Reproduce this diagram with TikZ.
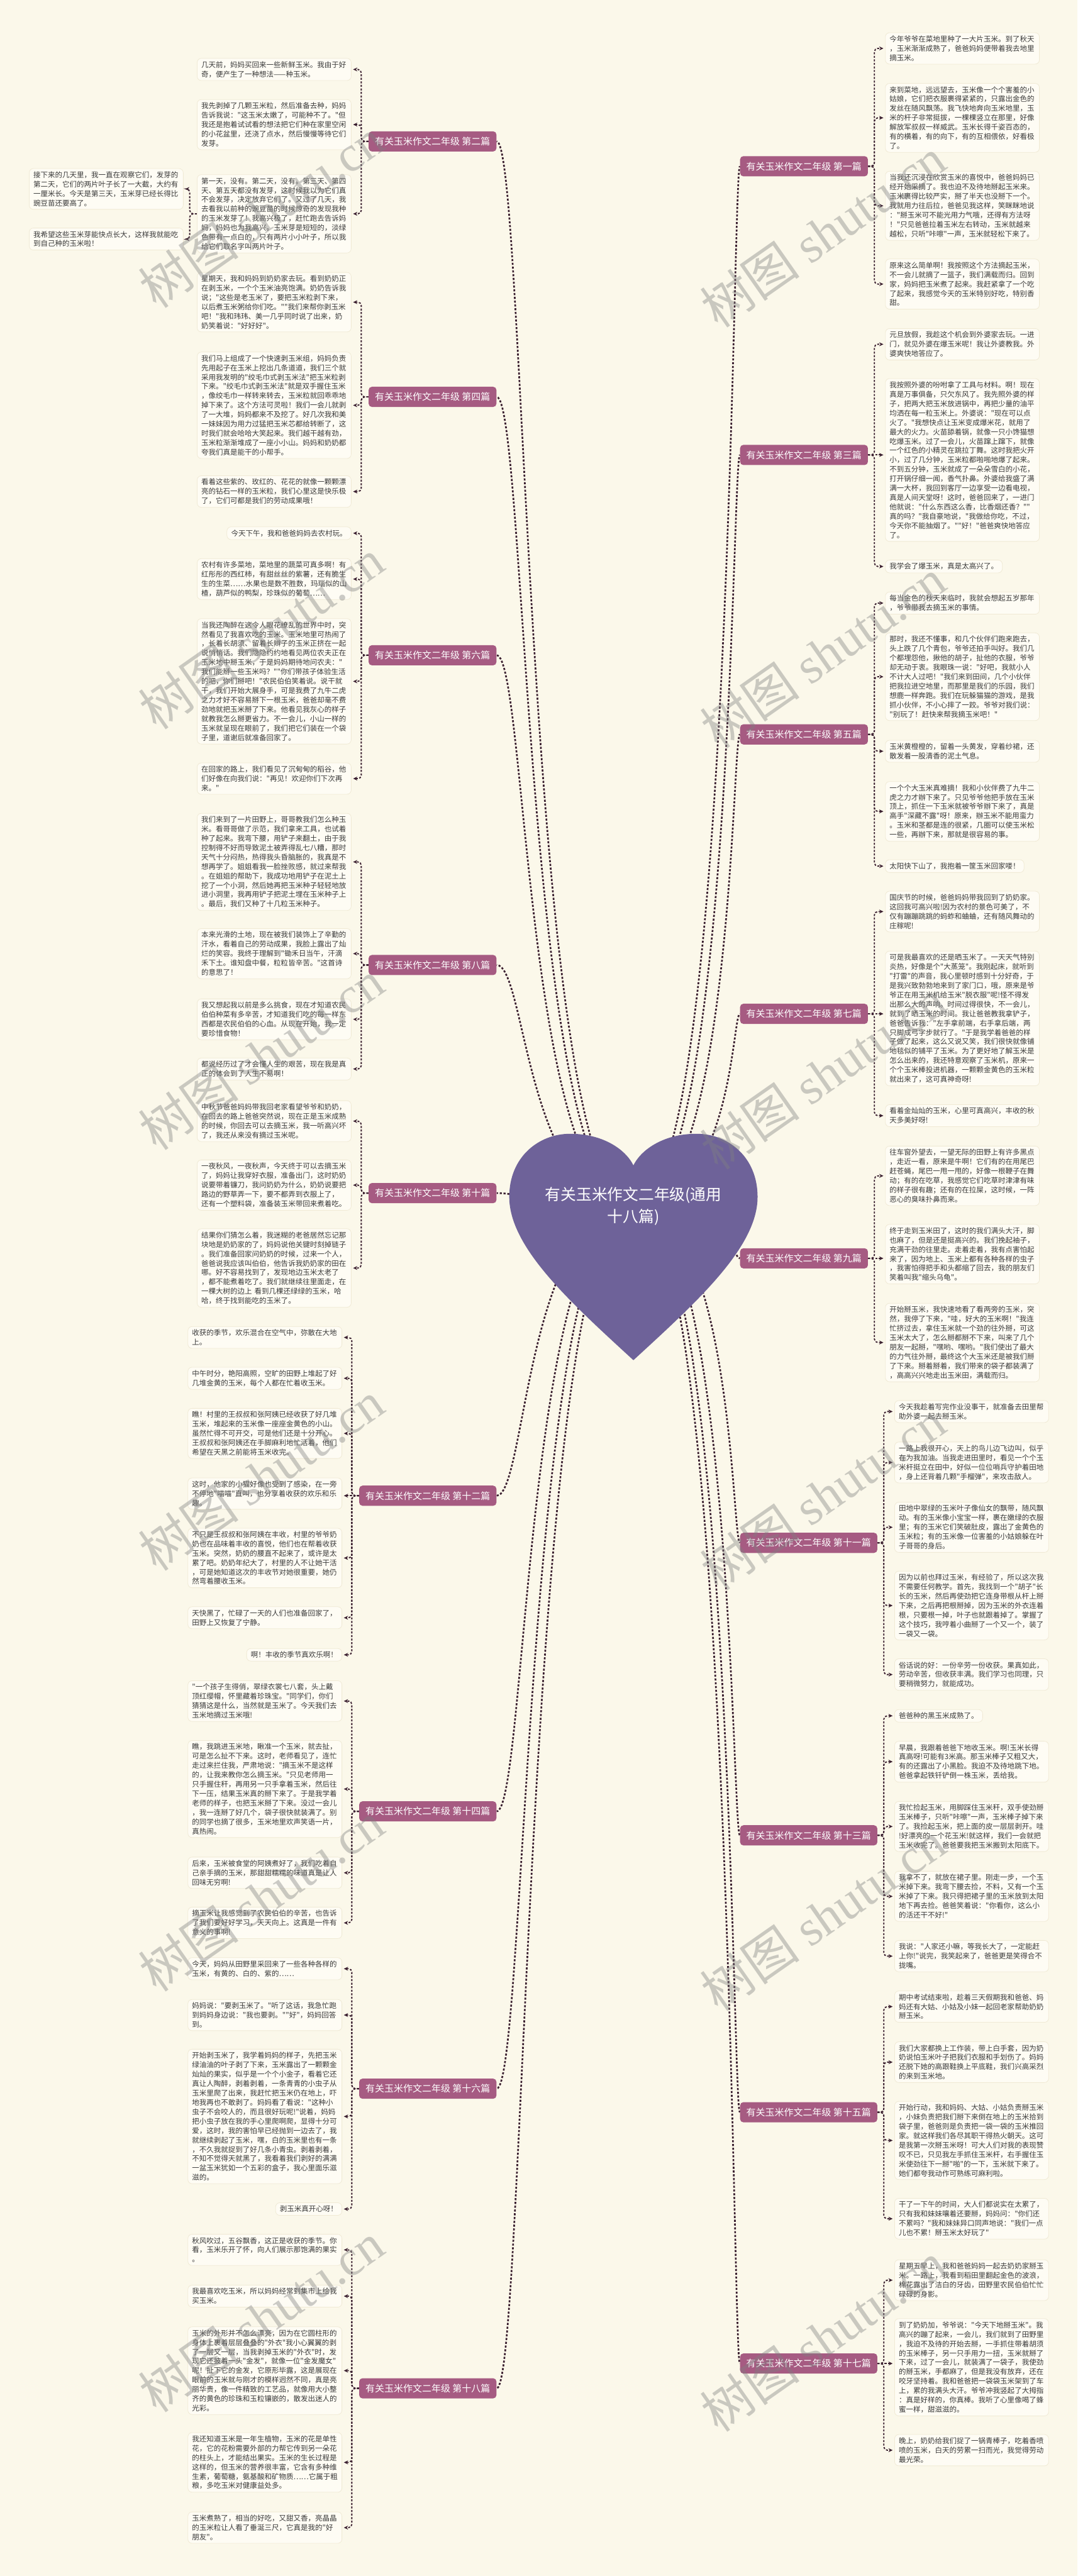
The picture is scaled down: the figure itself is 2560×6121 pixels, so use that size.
\documentclass[tikz,border=0pt]{standalone}
\usepackage{fontspec}
\newfontfamily\cjk{Noto Sans CJK SC}
\newfontfamily\wmlatin{Liberation Serif}
\usetikzlibrary{calc,arrows.meta}
\pgfdeclarelayer{back}
\pgfdeclarelayer{lines}
\pgfdeclarelayer{front}
\pgfsetlayers{back,lines,main,front}
\definecolor{bgc}{HTML}{FBF8EA}
\definecolor{blkfill}{HTML}{FEFCF4}
\definecolor{blkline}{HTML}{F0EAD5}
\definecolor{boxc}{HTML}{A65B82}
\definecolor{heartc}{HTML}{6E6299}
\definecolor{lc}{HTML}{3B2030}
\definecolor{txtc}{HTML}{3A3A3A}
\newcommand\lblock[4]{\node[blk,long,anchor=east] (#1) at (#2,#3) {#4};}
\newcommand\rblock[4]{\node[blk,long,anchor=west] (#1) at (#2,#3) {#4};}
\newcommand\lshort[4]{\node[blk,anchor=east] (#1) at (#2,#3) {#4};}
\newcommand\rshort[4]{\node[blk,anchor=west] (#1) at (#2,#3) {#4};}
\newcommand\lconn[2]{\draw[cc] (#1.west) -- ++(-17,0) |- (#2.east);}
\newcommand\rconn[2]{\draw[cc] (#1.east) -- ++(15,0) |- (#2.west);}
\newcommand\lstraight[2]{\draw[cc] (#1.west) -- (#1.west -| #2.east);}
\newcommand\rstraight[2]{\draw[cc] (#1.east) -- (#1.east -| #2.west);}
\newcommand\lmain[1]{\draw[mc] (root.center) .. controls (lsp |- root.center) and (lsp |- #1.east) .. (#1.east);}
\newcommand\rmain[1]{\draw[mc] (root.center) .. controls (rsp |- root.center) and (rsp |- #1.west) .. (#1.west);}
\begin{document}
\begin{tikzpicture}[x=0.5pt,y=-0.5pt,
  blk/.style={rounded corners=5pt, fill=blkfill, draw=blkline, line width=0.6pt,
    inner xsep=5pt, inner ysep=3.5pt, text=txtc, align=left,
    font=\cjk\fontsize{8.6pt}{11.15pt}\selectfont},
  long/.style={text width=173pt},
  bbox/.style={rounded corners=4pt, fill=boxc, text=white, inner xsep=7.5pt,
    minimum height=24pt, font=\cjk\fontsize{11.2pt}{13pt}\selectfont},
  cc/.style={draw=lc, line width=1.4pt, dash pattern=on 2.4pt off 1.8pt,
    rounded corners=4pt, -{Stealth[length=5pt,width=4.6pt]}, shorten >=2pt},
  mc/.style={draw=lc, line width=2pt, dash pattern=on 2.5pt off 2pt},
  wm/.style={rotate=35, text=gray, text opacity=0.4, font=\cjk\fontsize{60pt}{60pt}\selectfont},
  hearttext/.style={text=white, align=center, font=\cjk\fontsize{18.5pt}{26pt}\selectfont}
]
\useasboundingbox (0,0) rectangle (2560,6121);
\begin{pgfonlayer}{back}
\fill[bgc] (0,0) rectangle (2560,6121);
\end{pgfonlayer}

% ---------- heart (root) ----------
\begin{scope}[shift={(1505,2694)}]
\fill[heartc] (0,538) .. controls (-150,400) and (-295,270) .. (-295,150)
  .. controls (-295,55) and (-225,0) .. (-150,0)
  .. controls (-75,0) and (-20,35) .. (0,75)
  .. controls (20,35) and (75,0) .. (150,0)
  .. controls (225,0) and (295,55) .. (295,150)
  .. controls (295,270) and (150,400) .. (0,538) -- cycle;
\end{scope}
\node[hearttext] (root) at (1505,2866) {有关玉米作文二年级(通用\\十八篇)};
\coordinate (lsp) at (1250,0);
\coordinate (rsp) at (1740,0);

% ---------- branch boxes ----------
\node[bbox,anchor=east] (L2box) at (1180,336) {有关玉米作文二年级 第二篇};
\node[bbox,anchor=east] (L4box) at (1180,943) {有关玉米作文二年级 第四篇};
\node[bbox,anchor=east] (L6box) at (1180,1557) {有关玉米作文二年级 第六篇};
\node[bbox,anchor=east] (L8box) at (1180,2293) {有关玉米作文二年级 第八篇};
\node[bbox,anchor=east] (L10box) at (1180,2835) {有关玉米作文二年级 第十篇};
\node[bbox,anchor=east] (L12box) at (1180,3554) {有关玉米作文二年级 第十二篇};
\node[bbox,anchor=east] (L14box) at (1180,4304) {有关玉米作文二年级 第十四篇};
\node[bbox,anchor=east] (L16box) at (1180,4963) {有关玉米作文二年级 第十六篇};
\node[bbox,anchor=east] (L18box) at (1180,5675) {有关玉米作文二年级 第十八篇};
\node[bbox,anchor=west] (R1box) at (1758,395) {有关玉米作文二年级 第一篇};
\node[bbox,anchor=west] (R3box) at (1758,1081) {有关玉米作文二年级 第三篇};
\node[bbox,anchor=west] (R5box) at (1758,1745) {有关玉米作文二年级 第五篇};
\node[bbox,anchor=west] (R7box) at (1758,2409) {有关玉米作文二年级 第七篇};
\node[bbox,anchor=west] (R9box) at (1758,2990) {有关玉米作文二年级 第九篇};
\node[bbox,anchor=west] (R11box) at (1758,3666) {有关玉米作文二年级 第十一篇};
\node[bbox,anchor=west] (R13box) at (1758,4361) {有关玉米作文二年级 第十三篇};
\node[bbox,anchor=west] (R15box) at (1758,5019) {有关玉米作文二年级 第十五篇};
\node[bbox,anchor=west] (R17box) at (1758,5616) {有关玉米作文二年级 第十七篇};

% ---------- left blocks ----------
\lblock{L2a}{835}{165}{几天前，妈妈买回来一些新鲜玉米。我由于好\\奇，便产生了一种想法——种玉米。}
\lblock{L2b}{835}{296}{我先剥掉了几颗玉米粒，然后准备去种，妈妈\\告诉我说："这玉米太嫩了，可能种不了。"但\\我还是抱着试试看的想法把它们种在家里空闲\\的小花盆里，还浇了点水，然后慢慢等待它们\\发芽。}
\lblock{L2c}{835}{508}{第一天，没有。第二天，没有。第三天、第四\\天、第五天都没有发芽，这时候我以为它们真\\不会发芽，决定放弃它们了。又过了几天，我\\去看我以前种的豌豆苗的时候惊奇的发现我种\\的玉米发芽了！我高兴极了，赶忙跑去告诉妈\\妈，妈妈也为我高兴。玉米芽是短短的，淡绿\\色带有一点白的，只有两片小小叶子，所以我\\给它们取名字叫两片叶子。}
\lblock{L2ca}{436}{449}{接下来的几天里，我一直在观察它们，发芽的\\第二天，它们的两片叶子长了一大截，大约有\\一厘米长。今天是第三天，玉米芽已经长得比\\豌豆苗还要高了。}
\lblock{L2cb}{436}{568}{我希望这些玉米芽能快点长大，这样我就能吃\\到自己种的玉米啦！}

\lblock{L4a}{835}{718}{星期天，我和妈妈到奶奶家去玩。看到奶奶正\\在剥玉米，一个个玉米油亮饱满。奶奶告诉我\\说；"这些是老玉米了，要把玉米粒剥下来，\\以后煮玉米粥给你们吃。""我们来帮你剥玉米\\吧！"我和玮玮、美一几乎同时说了出来，奶\\奶笑着说："好好好"。}
\lblock{L4b}{835}{963}{我们马上组成了一个快速剥玉米组，妈妈负责\\先用起子在玉米上挖出几条道道，我们三个就\\采用我发明的"绞毛巾式剥玉米法"把玉米粒剥\\下来。"绞毛巾式剥玉米法"就是双手握住玉米\\，像绞毛巾一样转来转去，玉米粒就回乖乖地\\掉下来了。这个方法可灵啦！我们一会儿就剥\\了一大堆，妈妈都来不及挖了。好几次我和美\\一妹妹因为用力过猛把玉米芯都给转断了，这\\时我们就会哈哈大笑起来。我们越干越有劲，\\玉米粒渐渐堆成了一座小小山。妈妈和奶奶都\\夸我们真是能干的小帮手。}
\lblock{L4c}{835}{1168}{看着这些紫的、玫红的、花花的就像一颗颗漂\\亮的钻石一样的玉米粒，我们心里这是快乐极\\了，它们可都是我们的劳动成果哦！}

\lshort{L6a}{835}{1267}{今天下午，我和爸爸妈妈去农村玩。}
\lblock{L6b}{835}{1376}{农村有许多菜地，菜地里的蔬菜可真多啊！有\\红彤彤的西红柿，有甜丝丝的紫薯，还有脆生\\生的生菜……水果也是数不胜数，玛瑙似的山\\楂，葫芦似的鸭梨，珍珠似的葡萄……}
\lblock{L6c}{835}{1619}{当我还陶醉在这令人眼花缭乱的世界中时，突\\然看见了我喜欢吃的玉米。玉米地里可热闹了\\，长着长胡须、留着长辫子的玉米正挤在一起\\说悄悄话。我们隐隐约约地看见两位农夫正在\\玉米地中掰玉米，于是妈妈期待地问农夫："\\我们能掰一些玉米吗？""你们带孩子体验生活\\的吧，你们掰吧！"农民伯伯笑着说。说干就\\干，我们开始大展身手，可是我费了九牛二虎\\之力才好不容易掰下一根玉米，爸爸却毫不费\\劲地就把玉米掰了下来。他看见我灰心的样子\\就教我怎么掰更省力。不一会儿，小山一样的\\玉米就呈现在眼前了，我们把它们装在一个袋\\子里，道谢后就准备回家了。}
\lblock{L6d}{835}{1850}{在回家的路上，我们看见了沉甸甸的稻谷，他\\们好像在向我们说："再见！欢迎你们下次再\\来。"}

\lblock{L8a}{835}{2048}{我们来到了一片田野上，哥哥教我们怎么种玉\\米。看哥哥做了示范，我们拿来工具，也试着\\种了起来。我弯下腰，用铲子来翻土，由于我\\控制得不好而导致泥土被弄得乱七八糟，那时\\天气十分闷热，热得我头昏脑胀的，我真是不\\想再学了。姐姐看我一脸挫败感，就过来帮我\\。在姐姐的帮助下，我成功地用铲子在泥土上\\挖了一个小洞，然后她再把玉米种子轻轻地放\\进小洞里，我再用铲子把泥土埋在玉米种子上\\。最后，我们又种了十几粒玉米种子。}
\lblock{L8b}{835}{2266}{本来光滑的土地，现在被我们装饰上了辛勤的\\汗水，看着自己的劳动成果，我脸上露出了灿\\烂的笑容。我终于理解到"锄禾日当午，汗滴\\禾下土。谁知盘中餐，粒粒皆辛苦。"这首诗\\的意思了！}
\lblock{L8c}{835}{2422}{我又想起我以前是多么挑食，现在才知道农民\\伯伯种菜有多辛苦，才知道我们吃的每一样东\\西都是农民伯伯的心血。从现在开始，我一定\\要珍惜食物！}
\lblock{L8d}{835}{2540}{都说经历过了才会懂人生的艰苦，现在我是真\\正的体会到了人生不易啊！}

\lblock{L10a}{835}{2664}{中秋节爸爸妈妈带我回老家看望爷爷和奶奶，\\在回去的路上爸爸突然说，现在正是玉米成熟\\的时候，你回去可以去摘玉米，我一听高兴坏\\了，我还从来没有摘过玉米呢。}
\lblock{L10b}{835}{2816}{一夜秋风，一夜秋声，今天终于可以去摘玉米\\了，妈妈让我穿好衣服，准备出门，这时奶奶\\说要带着镰刀，我问奶奶为什么，奶奶说要把\\路边的野草弄一下，要不都弄到衣服上了，\\还有一个塑料袋，准备装玉米带回来煮着吃。}
\lblock{L10c}{835}{3013}{结果你们猜怎么着，我迷糊的老爸居然忘记那\\块地是奶奶家的了，妈妈说他关键时刻掉链子\\。我们准备回家问奶奶的时候，过来一个人，\\爸爸说我应该叫伯伯，他告诉我奶奶家的田在\\哪。好不容易找到了，发现地边玉米太老了\\，都不能煮着吃了。我们就继续往里面走，在\\一棵大树的边上 看到几棵还绿绿的玉米，哈\\哈，终于找到能吃的玉米了。}

\lblock{L12a}{813}{3178}{收获的季节，欢乐混合在空气中，弥散在大地\\上。}
\lblock{L12b}{813}{3275}{中午时分，艳阳高照，空旷的田野上堆起了好\\几堆金黄的玉米，每个人都在忙着收玉米。}
\lblock{L12c}{813}{3406}{瞧！村里的王叔叔和张阿姨已经收获了好几堆\\玉米，堆起来的玉米像一座座金黄色的小山。\\虽然忙得不可开交，可是他们还是十分开心。\\王叔叔和张阿姨还在手脚麻利地忙活着，他们\\希望在天黑之前能将玉米收完。}
\lblock{L12d}{813}{3549}{这时，他家的小猫好像也受到了感染，在一旁\\不停地"喵喵"直叫，也分享着收获的欢乐和乐\\趣。}
\lblock{L12e}{813}{3702}{不只是王叔叔和张阿姨在丰收，村里的爷爷奶\\奶也在品味着丰收的喜悦，他们也在帮着收获\\玉米。突然，奶奶的腰直不起来了，或许是太\\累了吧。奶奶年纪大了，村里的人不让她干活\\，可是她知道这次的丰收节对她很重要，她仍\\然弯着腰收玉米。}
\lblock{L12f}{813}{3844}{天快黑了，忙碌了一天的人们也准备回家了，\\田野上又恢复了宁静。}
\lshort{L12g}{813}{3932}{啊！丰收的季节真欢乐啊！}

\lblock{L14a}{813}{4042}{"一个孩子生得俏，翠绿衣裳七八套，头上戴\\顶红缨帽，怀里藏着珍珠宝。"同学们，你们\\猜猜这是什么，当然就是玉米了。今天我们去\\玉米地摘过玉米哦!}
\lblock{L14b}{813}{4251}{瞧，我跳进玉米地，瞅准一个玉米，就去扯，\\可是怎么扯不下来。这时，老师看见了，连忙\\走过来拦住我，严肃地说："摘玉米不是这样\\的，让我来教你怎么摘玉米。"只见老师用一\\只手握住秆，再用另一只手拿着玉米，然后往\\下一压，结果玉米真的掰下来了。于是我学着\\老师的样子，也把玉米掰了下来。没过一会儿\\，我一连掰了好几个，袋子很快就装满了。别\\的同学也摘了很多，玉米地里欢声笑语一片，\\真热闹。}
\lblock{L14c}{813}{4450}{后来，玉米被食堂的阿姨煮好了，我们吃着自\\己亲手摘的玉米，那甜甜糯糯的味道真是让人\\回味无穷啊!}
\lblock{L14d}{813}{4569}{摘玉米让我感觉到了农民伯伯的辛苦，也告诉\\了我们要好好学习，天天向上。这真是一件有\\意义的事啊!}

\lblock{L16a}{813}{4678}{今天，妈妈从田野里采回来了一些各种各样的\\玉米，有黄的、白的、紫的……}
\lblock{L16b}{813}{4788}{妈妈说："要剥玉米了。"听了这话，我急忙跑\\到妈妈身边说："我也要剥。""好"，妈妈回答\\到。}
\lblock{L16c}{813}{5029}{开始剥玉米了，我学着妈妈的样子，先把玉米\\绿油油的叶子剥了下来，玉米露出了一颗颗金\\灿灿的果实，似乎是一个个小金子，看着它还\\真让人陶醉，剥着剥着，一条青青的小虫子从\\玉米里爬了出来，我赶忙把玉米仍在地上，吓\\地我再也不敢剥了。妈妈看了看说："这种小\\虫子不会咬人的，而且很好玩呢!"说着，妈妈\\把小虫子放在我的手心里爬啊爬，显得十分可\\爱，这时，我的害怕早已经抛到一边去了，我\\就继续剥起了玉米，嘿，白的玉米里也有一条\\，不久我就捉到了好几条小青虫。剥着剥着，\\不知不觉得天就黑了，我看着我们剥好的满满\\一盆玉米犹如一个五彩的盒子，我心里面乐滋\\滋的。}
\lshort{L16d}{813}{5249}{剥玉米真开心呀！}

\lblock{L18a}{813}{5346}{秋风吹过，五谷飘香，这正是收获的季节。你\\看，玉米乐开了怀，向人们展示那饱满的果实\\。}
\lblock{L18b}{813}{5456}{我最喜欢吃玉米，所以妈妈经常到集市上给我\\买玉米。}
\lblock{L18c}{813}{5633}{玉米的外形并不怎么漂亮，因为在它圆柱形的\\身体上裹着层层叠叠的"外衣"我小心翼翼的剥\\了一层又一层，当我剥掉玉米的"外衣"时，发\\现它还披着一头"金发"，就像一位"金发魔女"\\呢！扯下它的金发，它原形毕露，这是展现在\\眼前的玉米就与刚才的模样迥然不同，真是亮\\丽华贵，像一件精致的工艺品，就像用大小整\\齐的黄色的珍珠和玉粒镶嵌的，散发出迷人的\\光彩。}
\lblock{L18d}{813}{5851}{我还知道玉米是一年生植物，玉米的花是单性\\花，它的花粉需要外部的力帮它传到另一朵花\\的柱头上，才能结出果实。玉米的生长过程是\\这样的，但玉米的营养很丰富，它含有多种维\\生素，葡萄糖，氨基酸和矿物质……它属于粗\\粮，多吃玉米对健康益处多。}
\lblock{L18e}{813}{6006}{玉米煮熟了，相当的好吃，又甜又香，亮晶晶\\的玉米粒让人看了垂涎三尺，它真是我的"好\\朋友"。}

% ---------- right blocks ----------
\rblock{R1a}{2103}{115}{今年爷爷在菜地里种了一大片玉米。到了秋天\\，玉米渐渐成熟了，爸爸妈妈便带着我去地里\\摘玉米。}
\rblock{R1b}{2103}{280}{来到菜地，远远望去，玉米像一个个害羞的小\\姑娘，它们把衣服裹得紧紧的，只露出金色的\\发丝在随风飘荡。我飞快地奔向玉米地里，玉\\米的杆子非常挺拔，一棵棵竖立在那里，好像\\解放军叔叔一样威武。玉米长得千姿百态的，\\有的横着，有的向下，有的互相偎依，好看极\\了。}
\rblock{R1c}{2103}{489}{当我还沉浸在欣赏玉米的喜悦中，爸爸妈妈已\\经开始采摘了。我也迫不及待地掰起玉米来。\\玉米裹得比较严实，掰了半天也没掰下一个。\\我就用力往后拉，爸爸见我这样，笑眯眯地说\\："掰玉米可不能光用力气哦，还得有方法呀\\！"只见爸爸拉着玉米左右转动，玉米就越来\\越松，只听"咔嚓"一声，玉米就轻松下来了。}
\rblock{R1d}{2103}{675}{原来这么简单啊！我按照这个方法摘起玉米，\\不一会儿就摘了一篮子，我们满载而归。回到\\家，妈妈把玉米煮了起来。我赶紧拿了一个吃\\了起来，我感觉今天的玉米特别好吃，特别香\\甜。}

\rblock{R3a}{2103}{818}{元旦放假，我趁这个机会到外婆家去玩。一进\\门，就见外婆在爆玉米呢！我让外婆教我。外\\婆爽快地答应了。}
\rblock{R3b}{2103}{1093}{我按照外婆的吩咐拿了工具与材料。啊！现在\\真是万事俱备，只欠东风了。我先照外婆的样\\子，把两大把玉米放进锅中，再把少量的油平\\均洒在每一粒玉米上。外婆说："现在可以点\\火了。"我想快点让玉米变成爆米花，就用了\\最大的火力。火苗舔着锅，就像一只小馋猫想\\吃爆玉米。过了一会儿，火苗蹿上蹿下，就像\\一个红色的小精灵在跳拉丁舞。这时我把火开\\小，过了几分钟，玉米粒都啪啪地爆了起来。\\不到五分钟，玉米就成了一朵朵雪白的小花，\\打开锅仔细一闻，香气扑鼻。外婆给我盛了满\\满一大杯，我回到客厅一边享受一边看电视，\\真是人间天堂呀！这时，爸爸回来了，一进门\\他就说："什么东西这么香，比香烟还香？""\\真的吗？"我自豪地说，"我做给你吃，不过，\\今天你不能抽烟了。""好！"爸爸爽快地答应\\了。}
\rshort{R3c}{2103}{1346}{我学会了爆玉米，真是太高兴了。}

\rblock{R5a}{2103}{1433}{每当金色的秋天来临时，我就会想起五岁那年\\，爷爷带我去摘玉米的事情。}
\rblock{R5b}{2103}{1608}{那时，我还不懂事，和几个伙伴们跑来跑去，\\头上跌了几个青包，爷爷还拍手叫好。我们几\\个都埋怨他，揪他的胡子，扯他的衣服，爷爷\\却无动于衷。我眼珠一说："好吧，我就小人\\不计大人过吧！"我们来到田间，几个小伙伴\\把我拉进空地里，而那里是我们的乐园，我们\\想鹿一样奔跑。我们在玩躲猫猫的游戏，是我\\抓小伙伴，不小心摔了一跤。爷爷对我们说：\\"别玩了！赶快来帮我摘玉米吧！"}
\rblock{R5c}{2103}{1785}{玉米黄橙橙的，留着一头黄发，穿着纱裙，还\\散发着一股清香的泥土气息。}
\rblock{R5d}{2103}{1928}{一个个大玉米真难摘！我和小伙伴费了九牛二\\虎之力才辦下来了。只见爷爷他把手放在玉米\\顶上，抓住一下玉米就被爷爷辦下来了，真是\\高手"深藏不露"呀！原来，辦玉米不能用蛮力\\。玉米和茎都是连的很紧，几圈可以使玉米松\\一些，再辦下来，那就是很容易的事。}
\rshort{R5e}{2103}{2058}{太阳快下山了，我抱着一筐玉米回家喽！}

\rblock{R7a}{2103}{2166}{国庆节的时候，爸爸妈妈带我回到了奶奶家。\\这回我可高兴啦!因为农村的景色可美了，不\\仅有蹦蹦跳跳的蚂蚱和蛐蛐，还有随风舞动的\\庄稼呢!}
\rblock{R7b}{2103}{2420}{可是我最喜欢的还是晒玉米了。一天天气特别\\炎热，好像是个"大蒸笼"。我刚起床，就听到\\"打雷"的声音，我心里顿时感到十分好奇，于\\是我兴致勃勃地来到了家门口，哦，原来是爷\\爷正在用玉米机给玉米"脱衣服"呢!怪不得发\\出那么大的声响。时间过得很快，不一会儿，\\就到了晒玉米的时间。我让爸爸教我拿铲子，\\爸爸告诉我："左手拿前端，右手拿后端，两\\只脚成弓字步就行了。"于是我学着爸爸的样\\子做了起来，这么又说又笑，我们很快就像铺\\地毯似的铺平了玉米。为了更好地了解玉米是\\怎么出来的，我还特意观察了玉米机，原来一\\个个玉米棒投进机器，一颗颗金黄色的玉米粒\\就出来了，这可真神奇呀!}
\rblock{R7c}{2103}{2651}{看着金灿灿的玉米，心里可真高兴，丰收的秋\\天多美好呀!}

\rblock{R9a}{2103}{2794}{往车窗外望去，一望无际的田野上有许多黑点\\，走近一看，原来是牛啊！它们有的在用尾巴\\赶苍蝇，尾巴一甩一甩的，好像一根鞭子在舞\\动；有的在吃草，我感觉它们吃草时津津有味\\的样子很有趣；还有的在拉屎，这时候，一阵\\恶心的臭味扑鼻而来。}
\rblock{R9b}{2103}{2980}{终于走到玉米田了，这时的我们满头大汗，脚\\也麻了，但是还是挺高兴的。我们挽起袖子，\\充满干劲的往里走。走着走着，我有点害怕起\\来了，因为地上、玉米上都有各种各样的虫子\\，我害怕得把手和头都缩了回去，我的朋友们\\笑着叫我"缩头乌龟"。}
\rblock{R9c}{2103}{3190}{开始掰玉米，我快速地看了看两旁的玉米，突\\然，我停了下来，"哇，好大的玉米啊！"我连\\忙挤过去，拿住玉米就一个劲的往外掰，可这\\玉米太大了，怎么掰都掰不下来，叫来了几个\\朋友一起掰，"嘿哟、嘿哟。"我们使出了最大\\的力气往外掰，最终这个大玉米还是被我们掰\\了下来。掰着掰着，我们带来的袋子都装满了\\，高高兴兴地走出玉米田，满载而归。}

\rblock{R11a}{2125}{3354}{今天我趁着写完作业没事干，就准备去田里帮\\助外婆一起去掰玉米。}
\rblock{R11b}{2125}{3475}{一路上我很开心，天上的鸟儿边飞边叫，似乎\\在为我加油。当我走进田里时，看见一个个玉\\米杆挺立在田中，好似一位位哨兵守护着田地\\，身上还背着几颗"手榴弹"，来攻击敌人。}
\rblock{R11c}{2125}{3629}{田地中翠绿的玉米叶子像仙女的飘带，随风飘\\动。有的玉米像小宝宝一样，裹在嫩绿的衣服\\里；有的玉米它们笑破肚皮，露出了金黄色的\\玉米粒；有的玉米像一位害羞的小姑娘躲在叶\\子哥哥的身后。}
\rblock{R11d}{2125}{3815}{因为以前也拜过玉米，有经验了，所以这次我\\不需要任何教学。首先，我找到一个"胡子"长\\长的玉米，然后再使劲把它连身带根从杆上掰\\下来，之后再把根掰掉，因为玉米的外衣连着\\根，只要根一掉，叶子也就跟着掉了。掌握了\\这个技巧，我哼着小曲掰了一个又一个，装了\\一袋又一袋。}
\rblock{R11e}{2125}{3979}{俗话说的好：一份辛劳一份收获。果真如此，\\劳动辛苦，但收获丰满。我们学习也同理，只\\要稍微努力，就能成功。}

\rshort{R13a}{2125}{4077}{爸爸种的黑玉米成熟了。}
\rblock{R13b}{2125}{4186}{早晨，我跟着爸爸下地收玉米。啊!玉米长得\\真高呀!可能有3米高。那玉米棒子又粗又大，\\有的还露出了小黑脸。我迫不及待地跳下地。\\爸爸拿起铁钎铲倒一株玉米，丢给我。}
\rblock{R13c}{2125}{4340}{我忙捡起玉米，用脚踩住玉米秆，双手使劲掰\\玉米棒子，只听"咔嚓"一声，玉米棒子掉下来\\了。我捡起玉米，把上面的皮一层层剥开。哇\\!好漂亮的一个花玉米!就这样，我们一会就把\\玉米收完了。爸爸要我把玉米搬到太阳底下。}
\rblock{R13d}{2125}{4506}{我拿不了，就放在裙子里。刚走一步，一个玉\\米掉下来。我弯下腰去捡，不料，又有一个玉\\米掉了下来。我只得把裙子里的玉米放到太阳\\地下再去捡。爸爸笑着说："你看你，这么小\\的活还干不好!"}
\rblock{R13e}{2125}{4648}{我说："人家还小嘛，等我长大了，一定能赶\\上你!"说完，我笑起来了，爸爸更是笑得合不\\拢嘴。}

\rblock{R15a}{2125}{4768}{期中考试结束啦，趁着三天假期我和爸爸、妈\\妈还有大姑、小姑及小妹一起回老家帮助奶奶\\掰玉米。}
\rblock{R15b}{2125}{4900}{我们大家都换上工作装，带上白手套，因为奶\\奶说怕玉米叶子把我们衣服和手划伤了。妈妈\\还脱下她的高跟鞋换上平底鞋，我们兴高采烈\\的来到玉米地。}
\rblock{R15c}{2125}{5086}{开始行动，我和妈妈、大姑、小姑负责掰玉米\\，小妹负责把我们掰下来倒在地上的玉米拾到\\袋子里，爸爸则是负责把一袋一袋的玉米推回\\家。就这样我们各尽其职干得热火朝天。这可\\是我第一次掰玉米呀！可大人们对我的表现赞\\叹不已，只见我左手抓住玉米杆，右手握住玉\\米使劲往下一掰"啪"的一下，玉米就下来了。\\她们都夸我动作可熟练可麻利啦。}
\rblock{R15d}{2125}{5272}{干了一下午的时间，大人们都说实在太累了，\\只有我和妹妹嚷着还要掰，妈妈问："你们还\\不累吗？"我和妹妹异口同声地说："我们一点\\儿也不累！掰玉米太好玩了"}

\rblock{R17a}{2125}{5418}{星期五早上，我和爸爸妈妈一起去奶奶家掰玉\\米。一路上，我看到稻田里翻起金色的波浪，\\棉花露出了洁白的牙齿，田野里农民伯伯忙忙\\碌碌的身影。}
\rblock{R17b}{2125}{5625}{到了奶奶加，爷爷说："今天下地掰玉米"。我\\高兴的蹦了起来，一会儿，我们就到了田野里\\，我迫不及待的开始去掰，一手抓住带着胡须\\的玉米棒子，另一只手用力一扭，玉米就掰了\\下来，过了一会儿，就装满了一袋子，我使劲\\的掰玉米，手都麻了，但是我没有放弃，还在\\咬牙坚持着。我和爸爸把一袋袋玉米架到了车\\上，累的我满头大汗。爷爷冲我竖起了大拇指\\：真是好样的，你真棒。我听了心里像喝了蜂\\蜜一样，甜滋滋的。}
\rblock{R17c}{2125}{5822}{晚上，奶奶给我们捉了一锅青棒子，吃着香喷\\喷的玉米，白天的劳累一扫而光，我觉得劳动\\最光荣。}

% ---------- connectors ----------
\begin{pgfonlayer}{lines}
\lmain{L2box}\lmain{L4box}\lmain{L6box}\lmain{L8box}\lmain{L10box}
\lmain{L12box}\lmain{L14box}\lmain{L16box}\lmain{L18box}
\rmain{R1box}\rmain{R3box}\rmain{R5box}\rmain{R7box}\rmain{R9box}
\rmain{R11box}\rmain{R13box}\rmain{R15box}\rmain{R17box}

\lconn{L2box}{L2a}\lconn{L2box}{L2b}\lconn{L2box}{L2c}
\lconn{L2c}{L2ca}\lconn{L2c}{L2cb}
\lconn{L4box}{L4a}\lconn{L4box}{L4b}\lconn{L4box}{L4c}
\lconn{L6box}{L6a}\lconn{L6box}{L6b}\lconn{L6box}{L6c}\lconn{L6box}{L6d}
\lconn{L8box}{L8a}\lconn{L8box}{L8b}\lconn{L8box}{L8c}\lconn{L8box}{L8d}
\lconn{L10box}{L10a}\lconn{L10box}{L10b}\lconn{L10box}{L10c}
\lconn{L12box}{L12a}\lconn{L12box}{L12b}\lconn{L12box}{L12c}\lstraight{L12box}{L12d}
\lconn{L12box}{L12e}\lconn{L12box}{L12f}\lconn{L12box}{L12g}
\lconn{L14box}{L14a}\lconn{L14box}{L14b}\lconn{L14box}{L14c}\lconn{L14box}{L14d}
\lconn{L16box}{L16a}\lconn{L16box}{L16b}\lconn{L16box}{L16c}\lconn{L16box}{L16d}
\lconn{L18box}{L18a}\lconn{L18box}{L18b}\lconn{L18box}{L18c}\lconn{L18box}{L18d}\lconn{L18box}{L18e}

\rconn{R1box}{R1a}\rconn{R1box}{R1b}\rconn{R1box}{R1c}\rconn{R1box}{R1d}
\rconn{R3box}{R3a}\rstraight{R3box}{R3b}\rconn{R3box}{R3c}
\rconn{R5box}{R5a}\rconn{R5box}{R5b}\rconn{R5box}{R5c}\rconn{R5box}{R5d}\rconn{R5box}{R5e}
\rconn{R7box}{R7a}\rstraight{R7box}{R7b}\rconn{R7box}{R7c}
\rconn{R9box}{R9a}\rstraight{R9box}{R9b}\rconn{R9box}{R9c}
\rconn{R11box}{R11a}\rconn{R11box}{R11b}\rconn{R11box}{R11c}\rconn{R11box}{R11d}\rconn{R11box}{R11e}
\rconn{R13box}{R13a}\rconn{R13box}{R13b}\rconn{R13box}{R13c}\rconn{R13box}{R13d}\rconn{R13box}{R13e}
\rconn{R15box}{R15a}\rconn{R15box}{R15b}\rconn{R15box}{R15c}\rconn{R15box}{R15d}
\rconn{R17box}{R17a}\rstraight{R17box}{R17b}\rconn{R17box}{R17c}
\end{pgfonlayer}

% ---------- watermarks ----------
\begin{pgfonlayer}{front}
\foreach \k in {0,...,5}{
  \node[wm] (wml\k) at (621,507+1000*\k) {树图 {\wmlatin shutu.cn}};
  \node[wm] (wmr\k) at (1955,553+1000*\k) {树图 {\wmlatin shutu.cn}};
}
\end{pgfonlayer}
\end{tikzpicture}
\end{document}
